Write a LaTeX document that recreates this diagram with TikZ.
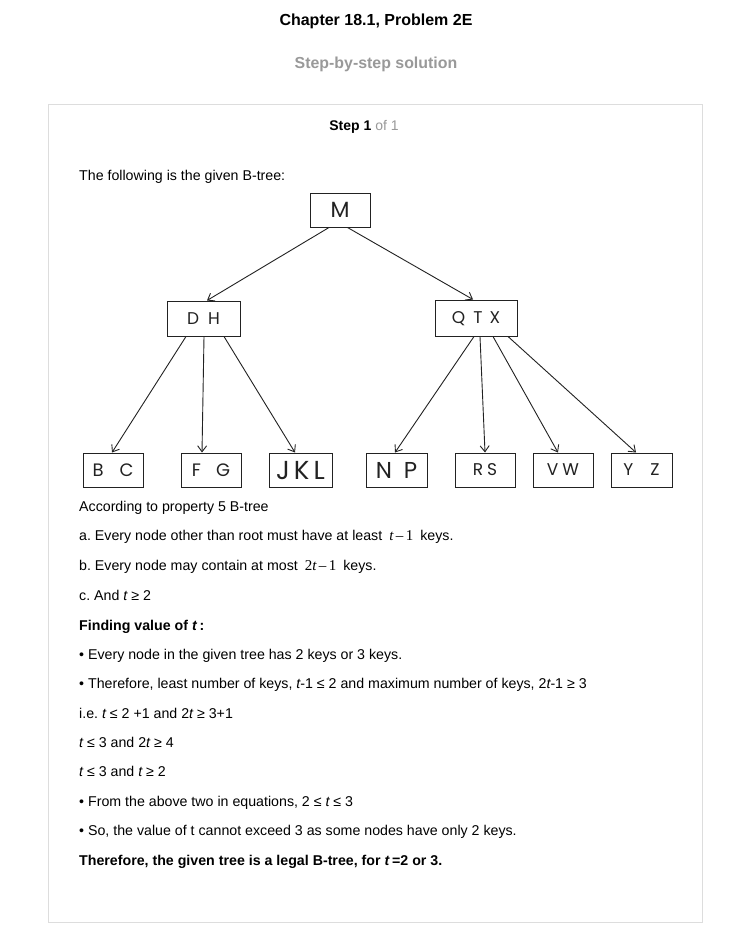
\documentclass[tikz,border=0pt]{standalone}
\usepackage{fontspec}
\setmainfont{Liberation Sans}
\newfontfamily\keyfont{Poppins}
\newfontfamily\serifmath{Liberation Serif}
\usetikzlibrary{arrows.meta}
\definecolor{panelgray}{HTML}{DDDDDD}
\definecolor{subgray}{HTML}{999999}
\definecolor{ink}{HTML}{222222}
\newcommand{\mt}{{\itshape t}}
\newcommand{\smath}[1]{{\serifmath\fontsize{15}{16}\selectfont #1}}
\frenchspacing
\begin{document}
\begin{tikzpicture}[x=1pt,y=1pt,
  keybox/.style={draw=ink, line width=1pt, minimum height=34pt, inner sep=0pt, text=ink, text depth=0pt},
  link/.style={draw=ink, line width=0.9pt, -{Straight Barb[length=6pt,width=9pt]}},
  body/.style={anchor=base west, inner sep=0pt, font=\fontsize{14.2}{16}\selectfont},
  kf/.style={font=\keyfont\fontsize{#1}{#1}\selectfont, text height=0.7*#1pt}]
\useasboundingbox (0,0) rectangle (752,-950);
\fill[white] (0,0) rectangle (752,-950);
\draw[panelgray, line width=1pt] (48.5,-104.5) rectangle (702.5,-922.5);

\node[inner sep=0pt, font=\bfseries\fontsize{16}{18}\selectfont] (title) at (376,-21) {Chapter 18.1, Problem 2E};
\node[inner sep=0pt, text=subgray, font=\bfseries\fontsize{15.9}{18}\selectfont] (sub) at (376,-64) {Step-by-step solution};
\node[inner sep=0pt, font=\fontsize{14}{16}\selectfont] (step) at (364,-127) {\textbf{Step 1} \textcolor{subgray}{of 1}};

\node[body] (intro) at (79,-180) {The following is the given B-tree:};

% tree
\node[keybox, minimum width=60pt, kf=22] (M) at (340,-210) {M};
\node[keybox, minimum width=73pt, minimum height=35pt, kf=17] (DH) at (203.5,-318.5) {D\hspace{9pt}H};
\node[keybox, minimum width=82pt, minimum height=36pt, kf=17] (QTX) at (476,-318) {Q\hspace{8pt}T\hspace{7pt}X};
\node[keybox, minimum width=60pt, kf=18] (BC) at (113,-470) {B\hspace{16pt}C};
\node[keybox, minimum width=60pt, kf=18] (FG) at (211,-470) {F\hspace{15pt}G};
\node[keybox, minimum width=63pt, kf=26] (JKL) at (300.5,-470) {J\hspace{4pt}K\hspace{4pt}L};
\node[keybox, minimum width=61pt, kf=23] (NP) at (396.5,-470) {N\hspace{12pt}P};
\node[keybox, minimum width=60pt, kf=17] (RS) at (485,-470) {R\hspace{4pt}S};
\node[keybox, minimum width=60pt, kf=17] (VW) at (563,-470) {V\hspace{4pt}W};
\node[keybox, minimum width=61pt, kf=17] (YZ) at (641.5,-470) {Y\hspace{17pt}Z};

\draw[link] ([xshift=-11pt]M.south) -- ([xshift=3.5pt]DH.north);
\draw[link] ([xshift=7.5pt]M.south) -- ([xshift=-3pt]QTX.north);
\draw[link] ([xshift=-17.5pt]DH.south) -- ([xshift=-1pt]BC.north);
\draw[link] ([xshift=0.5pt]DH.south) -- ([xshift=-9pt]FG.north);
\draw[link] ([xshift=20.5pt]DH.south) -- ([xshift=-5.5pt]JKL.north);
\draw[link] ([xshift=-2pt]QTX.south) -- ([xshift=-1.5pt]NP.north);
\draw[link] ([xshift=4pt]QTX.south) -- ([xshift=0pt]RS.north);
\draw[link] ([xshift=17pt]QTX.south) -- ([xshift=-5pt]VW.north);
\draw[link] ([xshift=32pt]QTX.south) -- ([xshift=-5.5pt]YZ.north);

% body text
\node[body] (l1) at (79,-511) {According to property 5 B-tree};
\node[body] (l2) at (79,-540) {a. Every node other than root must have at least \hspace{3pt}\smath{\itshape t\upshape\,–\,1}\hspace{3pt} keys.};
\node[body] (l3) at (79,-570) {b. Every node may contain at most \hspace{3pt}\smath{2\itshape t\upshape\,–\,1}\hspace{3pt} keys.};
\node[body] (l4) at (79,-600) {c. And \mt{} ≥ 2};
\node[body] (l5) at (79,-630) {\textbf{Finding value of \textit{t}\,:}};
\node[body] (l6) at (79,-659) {• Every node in the given tree has 2 keys or 3 keys.};
\node[body] (l7) at (79,-688) {• Therefore, least number of keys, \mt-1 ≤ 2 and maximum number of keys, 2\mt-1 ≥ 3};
\node[body] (l8) at (79,-718) {i.e. \mt{} ≤ 2 +1 and 2\mt{} ≥ 3+1};
\node[body] (l9) at (79,-747) {\mt{} ≤ 3 and 2\mt{} ≥ 4};
\node[body] (l10) at (79,-776) {\mt{} ≤ 3 and \mt{} ≥ 2};
\node[body] (l11) at (79,-806) {• From the above two in equations, 2 ≤ \mt{} ≤ 3};
\node[body] (l12) at (79,-835) {• So, the value of t cannot exceed 3 as some nodes have only 2 keys.};
\node[body] (l13) at (79,-865) {\textbf{Therefore, the given tree is a legal B-tree, for \textit{t}\,=2 or 3.}};
\end{tikzpicture}
\end{document}
